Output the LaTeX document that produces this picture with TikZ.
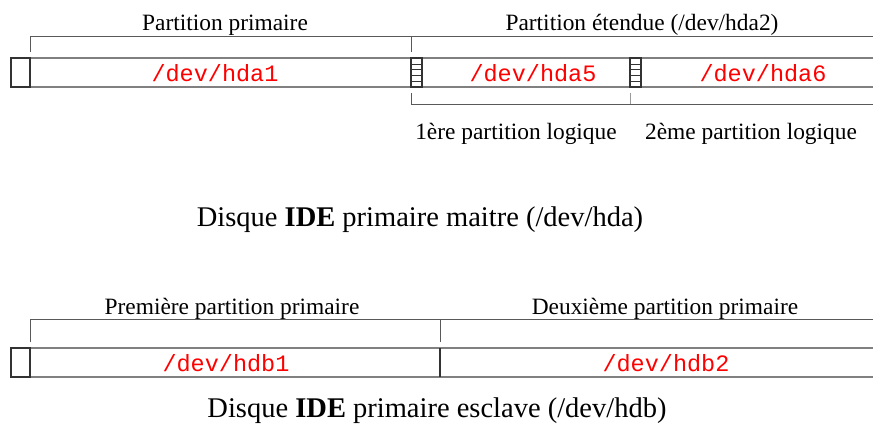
\documentclass[tikz,border=0pt]{standalone}
\usepackage{fontspec}
\setmainfont{Liberation Serif}
\newfontfamily\devfont{Liberation Mono}
\usetikzlibrary{positioning}

\begin{document}
\begin{tikzpicture}[
        x=1pt, y=-1pt,
        label/.style={font=\fontsize{23.4}{26}\selectfont, inner sep=0pt, anchor=base},
        caption/.style={font=\fontsize{28.5}{31}\selectfont, inner sep=0pt, anchor=base},
        dev/.style={font=\devfont\fontsize{23.5}{26}\selectfont, text=red, inner sep=0pt},
        rail/.style={draw=black!50, line width=2.2pt},
        edge/.style={draw=black!80, line width=1.2pt},
        brace/.style={draw=black!65, line width=0.8pt},
        hatch/.style={draw=black!80, line width=0.6pt}
    ]
        \useasboundingbox (0,0) rectangle (873,442);

        % 1. Disque maitre (/dev/hda)
        \node (prim) [label] at (225,30) {Partition primaire};
        \node (ext) [label] at (642,30) {Partition étendue (/dev/hda2)};
        \draw [brace] (30,52) -- (30,36) -- (873,36);
        \draw [brace] (411,52) -- (411,36);

        \draw [rail] (11,58) -- (873,58);
        \draw [rail] (11,87) -- (873,87);
        \draw [edge] (11,58) rectangle (30,87);

        % boot records of the logical partitions
        \foreach \x in {411,630} {
            \draw [edge] (\x,58) rectangle ++(11,29);
            \foreach \y in {63.8,69.6,75.4,81.2}
                \draw [hatch] (\x,\y) -- ++(11,0);
        }

        \node (hda1) [dev] at (215,73) {/dev/hda1};
        \node (hda5) [dev] at (533,73) {/dev/hda5};
        \node (hda6) [dev] at (763,73) {/dev/hda6};

        \draw [brace] (411,93) -- (411,104) -- (873,104);
        \draw [brace, draw=black!40] (630,93) -- (630,104);
        \node (log1) [label] at (516,139) {1ère partition logique};
        \node (log2) [label] at (751,139) {2ème partition logique};

        \node (diskA) [caption] at (420,226) {Disque \textbf{IDE} primaire maitre (/dev/hda)};

        % 2. Disque esclave (/dev/hdb)
        \node (prim1) [label] at (232,314) {Première partition primaire};
        \node (prim2) [label] at (665,314) {Deuxième partition primaire};
        \draw [brace] (30,342) -- (30,319) -- (873,319);
        \draw [brace] (440,342) -- (440,319);

        \draw [rail] (11,348) -- (873,348);
        \draw [rail] (11,377) -- (873,377);
        \draw [edge] (11,348) rectangle (30,377);
        \draw [edge] (440,348) -- (440,377);

        \node (hdb1) [dev] at (226,363) {/dev/hdb1};
        \node (hdb2) [dev] at (666,363) {/dev/hdb2};

        \node (diskB) [caption] at (437,417) {Disque \textbf{IDE} primaire esclave (/dev/hdb)};
    \end{tikzpicture}
\end{document}
